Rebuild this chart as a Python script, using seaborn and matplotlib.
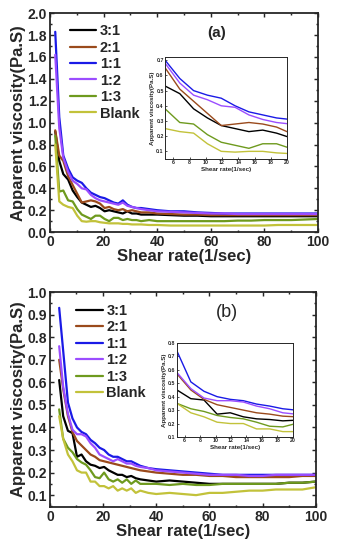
import numpy as np
import pandas as pd
import matplotlib
matplotlib.use("Agg")
import matplotlib.pyplot as plt
import seaborn as sns
from matplotlib.ticker import AutoMinorLocator

sns.set_style("ticks")
plt.rcParams["font.family"] = ["Liberation Sans", "DejaVu Sans"]
plt.rcParams["xtick.direction"] = "in"
plt.rcParams["ytick.direction"] = "in"

# ---------------------------------------------------------------
# DATA
# ---------------------------------------------------------------
labels = ["3:1", "2:1", "1:1", "1:2", "1:3", "Blank"]
colors = ["#000000", "#9A4A1C", "#1A1AE6", "#9B4DFF", "#6E9A1E", "#C2C23A"]

# panel (a)
x_a = [2, 3.5, 5, 6.8, 8.5, 10.2, 11.9, 13.6, 15.3, 17, 18.7, 20.4, 22.1, 23.8, 25.5,
       27.2, 28.9, 30.6, 32.3, 34, 37, 40, 45, 50, 55, 60, 65, 70, 75, 80, 85, 90, 95, 100]
a_31 = [0.92, 0.65, 0.53, 0.48, 0.38, 0.32, 0.27, 0.25, 0.23, 0.24, 0.22, 0.19, 0.20, 0.19, 0.18,
        0.17, 0.19, 0.17, 0.17, 0.16, 0.16, 0.16, 0.155, 0.15, 0.15, 0.145, 0.145, 0.145, 0.145,
        0.145, 0.145, 0.145, 0.145, 0.145]
a_21 = [0.93, 0.70, 0.65, 0.51, 0.43, 0.35, 0.27, 0.28, 0.29, 0.28, 0.26, 0.22, 0.23, 0.21, 0.20,
        0.21, 0.19, 0.20, 0.19, 0.18, 0.18, 0.17, 0.165, 0.16, 0.16, 0.155, 0.155, 0.155, 0.155,
        0.155, 0.155, 0.155, 0.155, 0.155]
a_11 = [1.83, 1.05, 0.70, 0.58, 0.50, 0.47, 0.45, 0.40, 0.36, 0.34, 0.32, 0.31, 0.29, 0.27, 0.26,
        0.29, 0.25, 0.23, 0.22, 0.22, 0.21, 0.20, 0.19, 0.19, 0.18, 0.175, 0.17, 0.17, 0.17,
        0.17, 0.17, 0.17, 0.17, 0.17]
a_12 = [1.62, 0.95, 0.68, 0.55, 0.47, 0.44, 0.40, 0.39, 0.34, 0.31, 0.29, 0.28, 0.27, 0.26, 0.25,
        0.27, 0.24, 0.23, 0.22, 0.21, 0.20, 0.19, 0.185, 0.18, 0.175, 0.17, 0.17, 0.165, 0.165,
        0.165, 0.165, 0.165, 0.165, 0.165]
a_13 = [0.88, 0.37, 0.38, 0.29, 0.28, 0.21, 0.16, 0.14, 0.12, 0.15, 0.15, 0.12, 0.10, 0.13, 0.13,
        0.11, 0.12, 0.11, 0.11, 0.10, 0.11, 0.10, 0.10, 0.10, 0.10, 0.10, 0.10, 0.105, 0.105,
        0.11, 0.11, 0.11, 0.115, 0.12]
a_blank = [0.80, 0.28, 0.25, 0.23, 0.22, 0.15, 0.10, 0.095, 0.10, 0.10, 0.09, 0.085, 0.08, 0.08,
           0.08, 0.075, 0.075, 0.07, 0.07, 0.07, 0.065, 0.065, 0.06, 0.06, 0.06, 0.06, 0.06,
           0.06, 0.06, 0.06, 0.065, 0.065, 0.065, 0.065]

# panel (b)
x_b = [3.5, 5, 6.8, 8.5, 10.2, 11.9, 13.6, 15.3, 17, 18.7, 20.4, 22.1, 23.8, 25.5, 27.2,
       28.9, 30.6, 32.3, 34, 37, 40, 45, 50, 55, 60, 65, 70, 75, 80, 85, 90, 95, 100]
b_31 = [0.61, 0.45, 0.385, 0.375, 0.27, 0.28, 0.25, 0.235, 0.23, 0.22, 0.225, 0.21, 0.20, 0.19,
        0.19, 0.18, 0.185, 0.175, 0.17, 0.165, 0.16, 0.165, 0.16, 0.155, 0.15, 0.15, 0.15, 0.15,
        0.15, 0.15, 0.155, 0.155, 0.16]
b_21 = [0.70, 0.57, 0.45, 0.38, 0.34, 0.32, 0.30, 0.28, 0.27, 0.255, 0.25, 0.245, 0.24, 0.235,
        0.23, 0.225, 0.22, 0.215, 0.21, 0.205, 0.20, 0.195, 0.19, 0.19, 0.185, 0.185, 0.18, 0.18,
        0.18, 0.18, 0.18, 0.185, 0.185]
b_11 = [0.93, 0.74, 0.51, 0.44, 0.40, 0.38, 0.37, 0.345, 0.33, 0.31, 0.30, 0.28, 0.27, 0.27,
        0.26, 0.25, 0.25, 0.24, 0.23, 0.22, 0.215, 0.21, 0.205, 0.20, 0.195, 0.19, 0.19, 0.19,
        0.19, 0.19, 0.19, 0.19, 0.19]
b_12 = [0.76, 0.58, 0.46, 0.39, 0.37, 0.37, 0.36, 0.33, 0.31, 0.28, 0.27, 0.26, 0.25, 0.26,
        0.25, 0.24, 0.24, 0.23, 0.225, 0.22, 0.21, 0.205, 0.20, 0.195, 0.19, 0.19, 0.19, 0.185,
        0.185, 0.19, 0.19, 0.19, 0.19]
b_13 = [0.48, 0.35, 0.31, 0.29, 0.26, 0.245, 0.235, 0.21, 0.18, 0.175, 0.20, 0.17, 0.16, 0.17,
        0.155, 0.17, 0.15, 0.165, 0.15, 0.15, 0.15, 0.145, 0.15, 0.145, 0.145, 0.15, 0.15, 0.15,
        0.15, 0.15, 0.155, 0.155, 0.16]
b_blank = [0.45, 0.35, 0.28, 0.25, 0.21, 0.20, 0.20, 0.16, 0.16, 0.14, 0.14, 0.13, 0.14, 0.12,
           0.13, 0.12, 0.13, 0.11, 0.12, 0.11, 0.105, 0.11, 0.105, 0.10, 0.11, 0.11, 0.115,
           0.12, 0.12, 0.125, 0.125, 0.125, 0.135]


def long_df(x, series):
    rows = []
    for lab, vals in zip(labels, series):
        for xi, yi in zip(x, vals):
            rows.append((xi, yi, lab))
    return pd.DataFrame(rows, columns=["rate", "visc", "ratio"])


df_a = long_df(x_a, [a_31, a_21, a_11, a_12, a_13, a_blank])
df_b = long_df(x_b, [b_31, b_21, b_11, b_12, b_13, b_blank])
palette = dict(zip(labels, colors))


def style_axes(ax, lw, size, bold, minor=True):
    for s in ax.spines.values():
        s.set_linewidth(lw)
    ax.tick_params(which="both", top=True, right=True, width=lw * 0.8,
                   labelsize=size, pad=2)
    ax.tick_params(which="major", length=3)
    ax.tick_params(which="minor", length=1.5)
    if minor:
        ax.xaxis.set_minor_locator(AutoMinorLocator(2))
        ax.yaxis.set_minor_locator(AutoMinorLocator(2))
    for t in ax.get_xticklabels() + ax.get_yticklabels():
        t.set_fontweight("bold" if bold else "normal")


def main_panel(ax, df, ylim, yticks, leg_pos, tag, tag_pos, tag_weight, tag_size):
    sns.lineplot(data=df, x="rate", y="visc", hue="ratio", palette=palette,
                 hue_order=labels, linewidth=1.6, ax=ax)
    ax.set_xlim(0, 100)
    ax.set_ylim(*ylim)
    ax.set_xticks([0, 20, 40, 60, 80, 100])
    ax.set_yticks(yticks)
    ax.set_xlabel("Shear rate(1/sec)", fontsize=12, fontweight="bold", labelpad=0)
    ax.set_ylabel("Apparent viscosity(Pa.S)", fontsize=12, fontweight="bold", labelpad=1)
    style_axes(ax, 1.3, 10, True)
    leg = ax.legend(loc="upper left", bbox_to_anchor=leg_pos, frameon=False,
                    handlelength=1.8, handletextpad=0.25, labelspacing=0.17,
                    borderaxespad=0, borderpad=0, prop={"weight": "bold", "size": 10.5})
    for h in leg.get_lines():
        h.set_linewidth(1.6)
    ax.text(tag_pos[0], tag_pos[1], tag, transform=ax.transAxes, fontsize=tag_size,
            fontweight=tag_weight, ha="center", va="center")


def inset_panel(ax, df, ylim, yticks):
    sns.lineplot(data=df, x="rate", y="visc", hue="ratio", palette=palette,
                 hue_order=labels, linewidth=1.0, ax=ax, legend=False)
    ax.set_xlim(5, 20)
    ax.set_ylim(*ylim)
    ax.set_xticks([6, 8, 10, 12, 14, 16, 18, 20])
    ax.set_yticks(yticks)
    ax.set_xlabel("Shear rate(1/sec)", fontsize=4.5, fontweight="bold", labelpad=1)
    ax.set_ylabel("Apparent viscosity(Pa.S)", fontsize=4.5, fontweight="bold", labelpad=1)
    style_axes(ax, 0.7, 3.8, True, minor=False)
    ax.tick_params(which="major", length=1.5, top=False, right=False, pad=1)


fig = plt.figure(figsize=(3.37, 5.5), dpi=100)

ax_a = fig.add_axes([0.148, 0.578, 0.796, 0.398])
main_panel(ax_a, df_a, (0, 2.0), np.arange(0, 2.01, 0.2), (0.075, 0.95),
           "(a)", (0.62, 0.91), "bold", 11)
in_a = fig.add_axes([0.490, 0.711, 0.362, 0.185])
inset_panel(in_a, df_a, (0.05, 0.72), [0.1, 0.2, 0.3, 0.4, 0.5, 0.6, 0.7])

ax_b = fig.add_axes([0.148, 0.078, 0.789, 0.391])
main_panel(ax_b, df_b, (0.047, 1.0), np.arange(0.1, 1.01, 0.1), (0.10, 0.945),
           "(b)", (0.665, 0.905), "normal", 13)
in_b = fig.add_axes([0.525, 0.2055, 0.344, 0.171])
inset_panel(in_b, df_b, (0.1, 0.8), [0.1, 0.2, 0.3, 0.4, 0.5, 0.6, 0.7, 0.8])

fig.savefig("out.png", dpi=100)
